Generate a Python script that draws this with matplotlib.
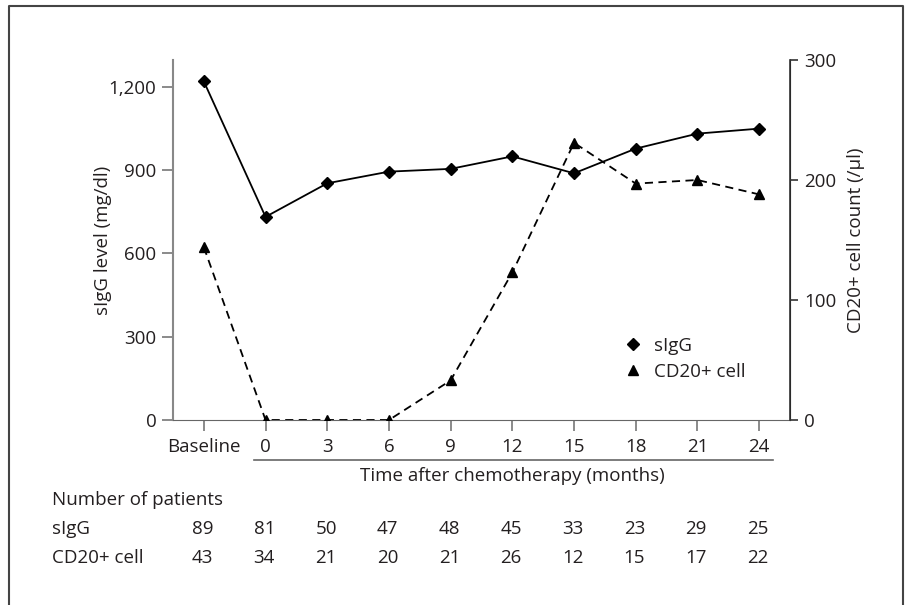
import matplotlib.pyplot as plt
from matplotlib.lines import Line2D
from matplotlib.transforms import blended_transform_factory

plt.rcParams['font.family'] = ['Open Sans', 'DejaVu Sans']
plt.rcParams['font.size'] = 13.5

time_labels = ['Baseline', '0', '3', '6', '9', '12', '15', '18', '21', '24']
sigg_level = [1220, 732, 853, 895, 905, 950, 889, 978, 1032, 1050]
cd20_count = [144, 0, 0, 0, 33, 123, 231, 197, 200, 188]
n_sigg = [89, 81, 50, 47, 48, 45, 33, 23, 29, 25]
n_cd20 = [43, 34, 21, 20, 21, 26, 12, 15, 17, 22]

txt = '#231f20'
W, H = 908, 605
fig = plt.figure(figsize=(W / 100, H / 100), dpi=100)
ax = fig.add_axes([173 / W, 1 - 420 / H, (790 - 173) / W, 360 / H])
ax2 = ax.twinx()

x = list(range(len(time_labels)))
ax.plot(x, sigg_level, '-', color='black', lw=1.3, marker='D', ms=6, zorder=3)
ax2.plot(x, cd20_count, color='black', lw=1.3, ls=(0, (4.5, 3)), marker='^', ms=7.5, zorder=3)

ax.set_xlim(-0.5, len(x) - 0.5)
ax.set_ylim(0, 1200 * 360 / 333)
ax2.set_ylim(0, 300)
ax.set_yticks([0, 300, 600, 900, 1200])
ax.set_yticklabels(['0', '300', '600', '900', '1,200'])
ax2.set_yticks([0, 100, 200, 300])
ax.set_xticks(x)
ax.set_xticklabels(time_labels)

for a in (ax, ax2):
    a.spines['top'].set_visible(False)
    a.tick_params(colors='#777777', labelcolor=txt, labelsize=13.5, width=1.2)
ax.spines['left'].set_color('#888888')
ax.spines['bottom'].set_color('#666666')
ax2.spines['left'].set_visible(False)
ax2.spines['bottom'].set_visible(False)
ax2.spines['right'].set_color('#333333')
ax.spines['left'].set_linewidth(1.5)
ax2.spines['right'].set_linewidth(1.2)
ax.tick_params(axis='x', length=8, pad=5)
ax.tick_params(axis='y', length=8, pad=4)
ax2.tick_params(axis='y', length=6, pad=4, colors='#333333', labelcolor=txt)

ax.set_ylabel('sIgG level (mg/dl)', color=txt)
ax.yaxis.set_label_coords((112 - 173) / (790 - 173), 0.5)
ax2.set_ylabel('CD20+ cell count (/\u03bcl)', color=txt, labelpad=8)

# underline below the post-chemotherapy time points
tr = blended_transform_factory(ax.transData, ax.transAxes)
ax.plot([0.82, 9.23], [(420 - 460) / 360] * 2, color='#666666', lw=1.2, transform=tr, clip_on=False)
ax.text(5.0, (420 - 476) / 360, 'Time after chemotherapy (months)', transform=tr,
        ha='center', va='center', color=txt)

# legend
handles = [Line2D([], [], color='black', ls='none', marker='D', ms=6),
           Line2D([], [], color='black', ls='none', marker='^', ms=7.5)]
fig.legend(handles, ['sIgG', 'CD20+ cell'], loc='upper left', bbox_to_anchor=(625 / W, 1 - 337 / H),
           frameon=False, handlelength=0.9, handletextpad=0.65, borderpad=0, borderaxespad=0,
           labelspacing=0.42, labelcolor=txt, fontsize=13.5)

# number-of-patients table
fig.text(52 / W, 1 - 500 / H, 'Number of patients', ha='left', va='center', color=txt)
for row_y, name, counts in [(529, 'sIgG', n_sigg), (558, 'CD20+ cell', n_cd20)]:
    fig.text(52 / W, 1 - row_y / H, name, ha='left', va='center', color=txt)
    for i, n in enumerate(counts):
        ax.text(i - 0.02, (420 - row_y) / 360, str(n), transform=tr, ha='center', va='center', color=txt)

# outer frame (left, top, right)
fig.add_artist(Line2D([9 / W, 9 / W, 903 / W, 903 / W], [0, 1 - 6 / H, 1 - 6 / H, 0],
                      color='#444444', lw=1.5, transform=fig.transFigure))

fig.savefig('out.png', dpi=100)
